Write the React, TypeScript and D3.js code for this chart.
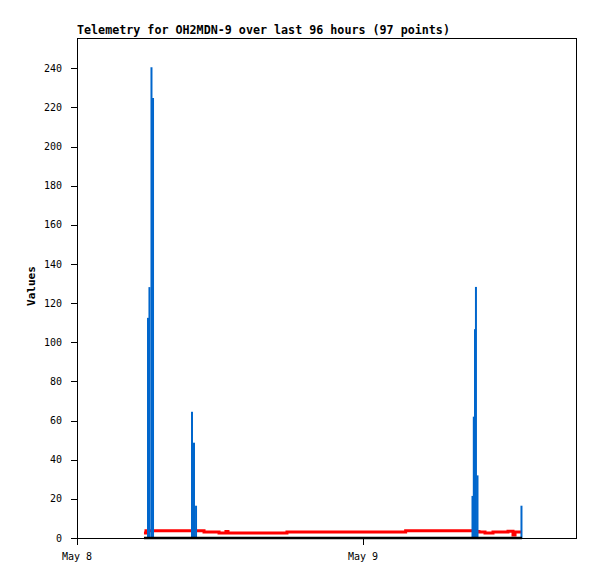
import React from "react";
import * as d3 from "d3";

const TITLE = "Telemetry for OH2MDN-9 over last 96 hours (97 points)";
const Y_LABEL = "Values";
const yTicks = [0, 20, 40, 60, 80, 100, 120, 140, 160, 180, 200, 220, 240];
const xTickLabels = ["May 8", "May 9"];

// hours since May 8 00:00
const blueHours = [5.96, 6.08, 6.25, 6.38, 9.65, 9.82, 9.99, 33.19, 33.3, 33.4, 33.48, 33.61, 37.3];
const blueValues = [112.5, 128.2, 240.6, 224.8, 64.5, 48.7, 16.5, 21.5, 62, 106.7, 128.3, 32, 16.5];

const redHours = [5.62, 5.79, 10.66, 11.92, 12.5, 12.67, 17.62, 27.58, 33.48, 33.73, 34.24, 34.91, 36.17, 36.59, 36.76, 37.34];
const redValues = [2.6, 3.7, 3.1, 2.6, 3.3, 2.6, 3.1, 3.7, 3.3, 3.1, 2.6, 3.1, 3.5, 1.5, 3.1, 3.1];

const blackHours = [5.62, 37.34];
const blackValues = [0, 0];

const T0 = Date.UTC(2024, 4, 8);
const H = 3600 * 1000;
const X_END_HOURS = 41.96;
const Y_MAX = 255.5;

export default function App() {
  const W = 597, Hgt = 579;
  const left = 77, right = 577, top = 38, bottom = 538;
  const x = d3.scaleUtc().domain([new Date(T0), new Date(T0 + X_END_HOURS * H)]).range([left, right]);
  const y = d3.scaleLinear().domain([0, Y_MAX]).range([bottom, top]);
  const xTicks = xTickLabels.map((_, i) => new Date(T0 + i * 24 * H));
  const font = "'DejaVu Sans Mono', monospace";

  const redLine = d3.line<number>()
    .x((_, i) => x(new Date(T0 + redHours[i] * H)))
    .y((v) => y(v))
    .curve(d3.curveStepAfter)(redValues) || "";
  const blackLine = d3.line<number>()
    .x((_, i) => x(new Date(T0 + blackHours[i] * H)))
    .y((v) => y(v))(blackValues) || "";

  return (
    <svg width={W} height={Hgt} style={{ position: "absolute", left: 0, top: 0, background: "#fff" }}>
      <rect x={0} y={0} width={W} height={Hgt} fill="#fff" />
      <text x={left} y={34} fontFamily={font} fontWeight="bold" fontSize={11.7} fill="#000">{TITLE}</text>
      <rect x={left + 0.5} y={top + 0.5} width={right - left - 1} height={bottom - top} fill="none" stroke="#000" strokeWidth={1} />
      {yTicks.map((t) => (
        <g key={t}>
          <line x1={left - 6} x2={left} y1={Math.round(y(t)) + 0.5} y2={Math.round(y(t)) + 0.5} stroke="#000" />
          <text x={left - 15} y={y(t)} dy="0.35em" textAnchor="end" fontFamily={font} fontSize={10} fill="#000">{t}</text>
        </g>
      ))}
      {xTicks.map((d, i) => (
        <g key={i}>
          <line x1={Math.round(x(d)) + 0.5} x2={Math.round(x(d)) + 0.5} y1={bottom} y2={bottom + 7} stroke="#000" />
          <text x={x(d)} y={560} textAnchor="middle" fontFamily={font} fontSize={10} fill="#000">{xTickLabels[i]}</text>
        </g>
      ))}
      <text transform={`translate(35,286) rotate(-90)`} textAnchor="middle" fontFamily={font} fontWeight="bold" fontSize={11} fill="#000">{Y_LABEL}</text>
      <path d={redLine} fill="none" stroke="#ff0000" strokeWidth={3} />
      {blueValues.map((v, i) => {
        const cx = x(new Date(T0 + blueHours[i] * H));
        return <line key={i} x1={cx} x2={cx} y1={y(0)} y2={y(v)} stroke="#0066cc" strokeWidth={2} />;
      })}
      <path d={blackLine} fill="none" stroke="#000" strokeWidth={2.5} />
    </svg>
  );
}
